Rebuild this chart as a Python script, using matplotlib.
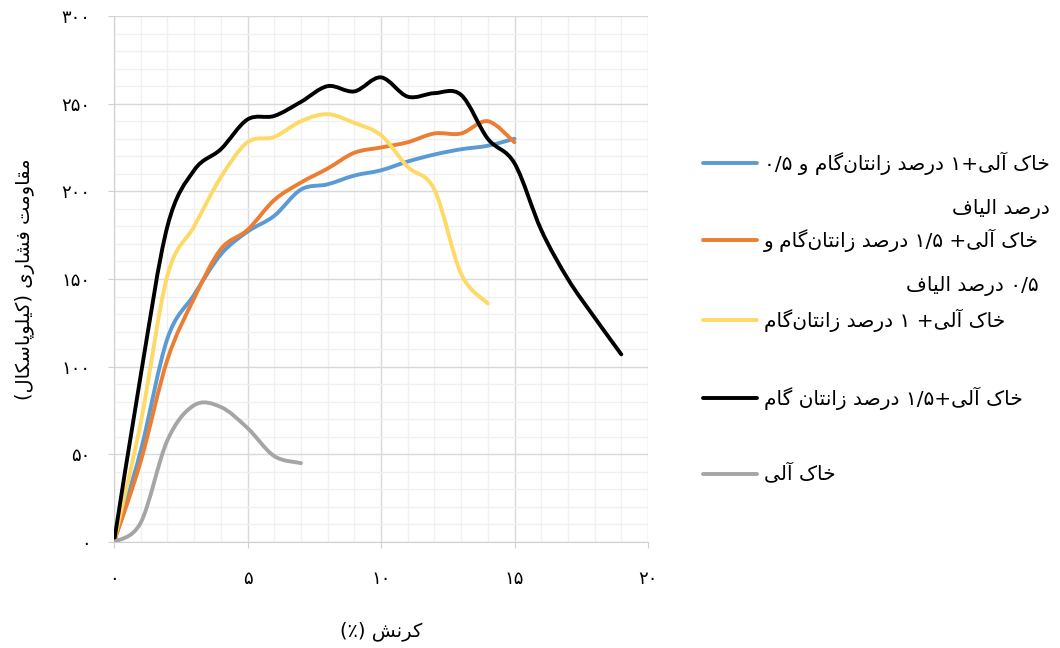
import re
import numpy as np
import matplotlib
matplotlib.use('Agg')
import matplotlib.pyplot as plt
from matplotlib.path import Path
from matplotlib.patches import PathPatch
from matplotlib.lines import Line2D

plt.rcParams['font.family'] = ['DejaVu Sans']

# کرنش (٪) - داده ها در هر درصد کرنش
soil_x = [0, 1, 2, 3, 4, 5, 6, 7]
soil_y = [0, 11, 58, 78, 77, 65, 49, 45]

xg1_x = [0, 1, 2, 3, 4, 5, 6, 7, 8, 9, 10, 11, 12, 13, 14]
xg1_y = [0, 68, 152, 180, 208, 228, 231, 240, 244, 239, 232, 214, 201, 153, 136]

xg15_x = [0, 1, 2, 3, 4, 5, 6, 7, 8, 9, 10, 11, 12, 13, 14, 15, 16, 17, 18, 19]
xg15_y = [0, 95, 180, 212, 224, 241, 243, 251, 260, 257, 265, 254, 256, 255, 230, 216, 178, 150, 128, 107]

xg1_f_x = [0, 1, 2, 3, 4, 5, 6, 7, 8, 9, 10, 11, 12, 13, 14, 15]
xg1_f_y = [0, 52, 116, 141, 164, 177, 186, 201, 204, 209, 212, 217, 221, 224, 226, 230]

xg15_f_x = [0, 1, 2, 3, 4, 5, 6, 7, 8, 9, 10, 11, 12, 13, 14, 15]
xg15_f_y = [0, 46, 104, 139, 167, 178, 195, 205, 213, 222, 225, 228, 233, 233, 240, 228]

# persian text shaping (matplotlib has no arabic shaping / bidi)
FORMS = {
    'ا': ('\uFE8D', '\uFE8E', None, None),
    'آ': ('\uFE81', '\uFE82', None, None),
    'د': ('\uFEA9', '\uFEAA', None, None),
    'ر': ('\uFEAD', '\uFEAE', None, None),
    'ز': ('\uFEAF', '\uFEB0', None, None),
    'و': ('\uFEED', '\uFEEE', None, None),
    'ت': ('\uFE95', '\uFE96', '\uFE97', '\uFE98'),
    'خ': ('\uFEA5', '\uFEA6', '\uFEA7', '\uFEA8'),
    'س': ('\uFEB1', '\uFEB2', '\uFEB3', '\uFEB4'),
    'ش': ('\uFEB5', '\uFEB6', '\uFEB7', '\uFEB8'),
    'ص': ('\uFEB9', '\uFEBA', '\uFEBB', '\uFEBC'),
    'ف': ('\uFED1', '\uFED2', '\uFED3', '\uFED4'),
    'ق': ('\uFED5', '\uFED6', '\uFED7', '\uFED8'),
    'ل': ('\uFEDD', '\uFEDE', '\uFEDF', '\uFEE0'),
    'م': ('\uFEE1', '\uFEE2', '\uFEE3', '\uFEE4'),
    'ن': ('\uFEE5', '\uFEE6', '\uFEE7', '\uFEE8'),
    'پ': ('\uFB56', '\uFB57', '\uFB58', '\uFB59'),
    'ک': ('\uFB8E', '\uFB8F', '\uFB90', '\uFB91'),
    'گ': ('\uFB92', '\uFB93', '\uFB94', '\uFB95'),
    'ی': ('\uFBFC', '\uFBFD', '\uFBFE', '\uFBFF'),
}


def shape(text):
    out = []
    for i, c in enumerate(text):
        if c not in FORMS:
            out.append(c)
            continue
        prev = text[i - 1] if i > 0 else ''
        nxt = text[i + 1] if i + 1 < len(text) else ''
        jp = prev in FORMS and FORMS[prev][2] is not None
        jn = nxt in FORMS and FORMS[c][2] is not None
        iso, fin, ini, med = FORMS[c]
        if jp and jn:
            out.append(med)
        elif jp:
            out.append(fin)
        elif jn:
            out.append(ini)
        else:
            out.append(iso)
    return ''.join(out).replace('\u200c', '')


def fa(text):
    s = shape(text)
    tokens = re.findall(r'[۰-۹/]+|[^۰-۹/]+', s)
    vis = []
    for t in reversed(tokens):
        if re.match(r'[۰-۹/]', t):
            vis.append(t)
        else:
            vis.append(t[::-1].translate(str.maketrans('()', ')(')))
    return ''.join(vis)


def fa_num(n):
    return str(n).translate(str.maketrans('0123456789', '۰۱۲۳۴۵۶۷۸۹'))


def smooth_path(x, y):
    pts = np.column_stack([x, y]).astype(float)
    n = len(pts)
    verts = [pts[0]]
    codes = [Path.MOVETO]
    for i in range(n - 1):
        p0 = pts[max(i - 1, 0)]
        p1 = pts[i]
        p2 = pts[i + 1]
        p3 = pts[min(i + 2, n - 1)]
        verts += [p1 + (p2 - p0) / 6, p2 - (p3 - p1) / 6, p2]
        codes += [Path.CURVE4] * 3
    return Path(verts, codes)


series = [
    (xg1_f_x, xg1_f_y, '#5B9BD5',
     ['خاک آلی+۱ درصد زانتان‌گام و ۰/۵', 'درصد الیاف']),
    (xg15_f_x, xg15_f_y, '#ED7D31',
     ['خاک آلی+ ۱/۵ درصد زانتان‌گام و', '۰/۵ درصد الیاف']),
    (xg1_x, xg1_y, '#FFD966', ['خاک آلی+ ۱ درصد زانتان‌گام']),
    (xg15_x, xg15_y, '#000000', ['خاک آلی+۱/۵ درصد زانتان گام']),
    (soil_x, soil_y, '#A5A5A5', ['خاک آلی']),
]

W, H = 1060, 648
fig = plt.figure(figsize=(W / 100, H / 100), dpi=100)
ax = fig.add_axes([114 / W, 1 - 542 / H, (648 - 114) / W, (542 - 16) / H])

for x, y, col, _ in series:
    ax.add_patch(PathPatch(smooth_path(x, y), fill=False, ec=col, lw=2.8,
                           capstyle='round', joinstyle='round', zorder=3))

ax.set_xlim(0, 20)
ax.set_ylim(0, 300)
ax.set_xticks(range(0, 21, 5))
ax.set_xticks(range(0, 21), minor=True)
ax.set_yticks(range(0, 301, 50))
ax.set_yticks(range(0, 301, 10), minor=True)
ax.set_xticklabels([fa_num(v) for v in range(0, 21, 5)])
ax.set_yticklabels([fa_num(v) for v in range(0, 301, 50)])
ax.grid(which='major', color='#d9d9d9', lw=1)
ax.grid(which='minor', color='#f0f0f0', lw=1)
ax.set_axisbelow(True)
for s in ['top', 'right']:
    ax.spines[s].set_visible(False)
for s in ['left', 'bottom']:
    ax.spines[s].set_color('#d0d0d0')
ax.tick_params(which='major', length=4, color='#d0d0d0', labelsize=13,
               labelcolor='#000000')
ax.tick_params(axis='x', pad=16)
ax.tick_params(axis='y', pad=13)
ax.tick_params(which='minor', length=0)

ax.set_xlabel(fa('کرنش (٪)'), fontsize=14, labelpad=24)
ax.set_ylabel(fa('مقاومت فشاری (کیلوپاسکال)'), fontsize=14, labelpad=19)

# legend
leg_y = [163, 240, 320, 398, 474]
renderer = fig.canvas.get_renderer()
for (x, y, col, lines), ly in zip(series, leg_y):
    fig.add_artist(Line2D([703 / W, 757 / W], [1 - ly / H, 1 - ly / H],
                          color=col, lw=2.8, solid_capstyle='round'))
    t = fig.text(764 / W, 1 - ly / H, fa(lines[0]), fontsize=14.5,
                 ha='left', va='center')
    if len(lines) > 1:
        bb = t.get_window_extent(renderer)
        fig.text(bb.x1 / W, 1 - (ly + 46) / H, fa(lines[1]), fontsize=14.5,
                 ha='right', va='center')

fig.savefig('out.png', dpi=100)
